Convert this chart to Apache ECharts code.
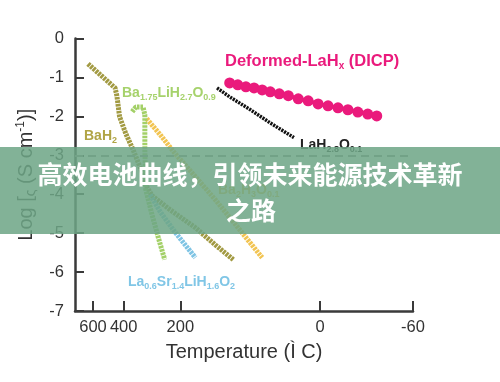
<!DOCTYPE html>
<html>
<head>
<meta charset="utf-8">
<script src="https://cdn.jsdelivr.net/npm/echarts@6/dist/echarts.min.js"></script>
<style>
html,body{margin:0;padding:0;background:#fff;}
#chart{width:500px;height:382px;}
</style>
</head>
<body>
<div id="chart"></div>
<script>
// x values are 1000/T (K^-1), y values are log conductivity
var tempTicks = [600, 400, 200, 0, -60];          // °C tick labels
var yTicks = [0, -1, -2, -3, -4, -5, -6, -7];

var bah2X = [1.09, 1.39, 1.41, 1.44, 1.51, 1.59, 1.67, 1.73, 1.80, 2.00, 2.28, 2.50, 2.70];
var bah2Y = [-0.65, -1.27, -1.47, -2.01, -2.45, -2.86, -3.32, -3.76, -4.04, -4.40, -4.86, -5.30, -5.68];

var baliX = [1.58, 1.62, 1.70, 1.72, 1.72, 1.73, 1.80, 1.87, 1.94];
var baliY = [-1.88, -1.76, -1.76, -1.96, -2.86, -3.88, -4.53, -5.12, -5.68];

var orangeX = [1.74, 1.89, 2.05, 2.28, 2.50, 2.77, 3.02];
var orangeY = [-2.06, -2.47, -2.94, -3.55, -4.14, -4.91, -5.63];

var lasrX = [1.78, 1.89, 2.05, 2.28];
var lasrY = [-4.01, -4.45, -4.96, -5.63];

var lahoX = [2.52, 2.66, 2.89, 3.11, 3.41];
var lahoY = [-1.27, -1.50, -1.83, -2.17, -2.60];

var dicpX = [2.66, 2.75, 2.84, 2.93, 3.02, 3.11, 3.21, 3.31, 3.42, 3.53, 3.64, 3.75, 3.86, 3.97, 4.08, 4.19, 4.29];
var dicpY = [-1.14, -1.19, -1.24, -1.27, -1.32, -1.37, -1.42, -1.47, -1.55, -1.60, -1.68, -1.73, -1.78, -1.83, -1.89, -1.94, -1.99];

var refLevel = -3;

function pairs(xs, ys) { return xs.map(function (x, i) { return [x, ys[i]]; }); }
var tickPos = tempTicks.map(function (t) { return 1000 / (t + 273.15); });

var chart = echarts.init(document.getElementById('chart'), null, {renderer: 'canvas'});
var FONT = '"Liberation Sans", Arial, sans-serif';
var AX = '#3a3a3a';

function chainLine(name, xs, ys, color, z) {
  return {
    name: name, type: 'line', data: pairs(xs, ys), symbol: 'none', z: z || 2,
    lineStyle: {color: color, width: 5, type: [2.6, 0.9]}, animation: false, silent: true
  };
}

function chem(parts, x, y, color, fs, z) {
  var txt = parts.map(function (p) { return p[1] ? '{s|' + p[0] + '}' : '{n|' + p[0] + '}'; }).join('');
  return {
    type: 'text', x: x, y: y, z: z || 50, silent: true,
    style: {
      text: txt, align: 'left', verticalAlign: 'middle',
      rich: {
        n: {fontSize: fs, fontWeight: 'bold', fill: color, fontFamily: FONT, lineHeight: fs + 4},
        s: {fontSize: Math.round(fs * 0.62), fontWeight: 'bold', fill: color, fontFamily: FONT, lineHeight: fs + 4, verticalAlign: 'bottom'}
      }
    }
  };
}

var option = {
  animation: false,
  backgroundColor: '#ffffff',
  grid: {left: 75, right: 87, top: 38.5, bottom: 71, containLabel: false},
  xAxis: {
    type: 'value', min: 0.946, max: tickPos[tickPos.length - 1],
    name: 'Temperature (Ì C)', nameLocation: 'middle', nameGap: 31,
    nameTextStyle: {fontSize: 20, color: '#333', fontFamily: FONT},
    splitLine: {show: false},
    axisLine: {show: true, onZero: false, lineStyle: {color: AX, width: 2.5}},
    axisTick: {show: true, inside: true, length: 10, customValues: tickPos, lineStyle: {color: AX, width: 2}},
    axisLabel: {
      customValues: tickPos, margin: 8, fontSize: 16.5, color: '#333', fontFamily: FONT,
      formatter: function (v) {
        var best = 0, d = 1e9;
        tickPos.forEach(function (p, i) { if (Math.abs(p - v) < d) { d = Math.abs(p - v); best = i; } });
        return String(tempTicks[best]);
      }
    }
  },
  yAxis: {
    type: 'value', min: yTicks[yTicks.length - 1], max: yTicks[0], interval: 1,
    name: '{a|Log [}{g|ς}{a| (S cm}{p|-1}{a|)]}', nameLocation: 'middle', nameGap: 36, nameRotate: 90,
    nameTextStyle: {
      fontSize: 20, color: '#333', fontFamily: FONT,
      rich: {
        a: {fontSize: 20, color: '#333', fontFamily: FONT, lineHeight: 24},
        g: {fontSize: 14, color: '#333', fontFamily: FONT, lineHeight: 24, verticalAlign: 'bottom'},
        p: {fontSize: 12, color: '#333', fontFamily: FONT, lineHeight: 24, verticalAlign: 'top'}
      }
    },
    splitLine: {show: false},
    axisLine: {show: true, onZero: false, lineStyle: {color: AX, width: 2.5}},
    axisTick: {show: true, inside: true, length: 9, lineStyle: {color: AX, width: 2}},
    axisLabel: {margin: 11, fontSize: 16.5, color: '#333', fontFamily: FONT}
  },
  series: [
    (function () {
      var s = chainLine('BaH2', bah2X, bah2Y, '#a29a42', 3);
      s.markLine = {
        silent: true, symbol: 'none', animation: false,
        lineStyle: {type: [8, 5], color: '#8c8c8c', width: 2},
        label: {show: false},
        data: [{yAxis: refLevel}]
      };
      return s;
    })(),
    chainLine('Ba1.75LiH2.7O0.9', baliX, baliY, '#a3d067', 4),
    chainLine('BaxHyO', orangeX, orangeY, '#f2c452', 2),
    chainLine('La0.6Sr1.4LiH1.6O2', lasrX, lasrY, '#7fc4e4', 5),
    {
      name: 'LaH2.8O0.1', type: 'line', data: pairs(lahoX, lahoY), z: 6, animation: false, silent: true,
      symbol: function (v, p) { return p.dataIndex === lahoX.length - 1 ? 'emptyCircle' : 'none'; },
      symbolSize: 6, showSymbol: true,
      itemStyle: {color: '#fff', borderColor: '#111', borderWidth: 1.5},
      lineStyle: {color: '#111', width: 3.5, type: [2.2, 1]}
    },
    {
      name: 'Deformed-LaHx (DICP)', type: 'line', data: pairs(dicpX, dicpY), z: 7, animation: false, silent: true,
      symbol: 'circle', symbolSize: 11, showSymbol: true,
      itemStyle: {color: '#ea1a7c'},
      lineStyle: {color: '#ea1a7c', width: 4}
    }
  ],
  graphic: [
    chem([['Deformed-LaH', 0], ['x', 1], [' (DICP)', 0]], 225, 61, '#ea1a7c', 16.5),
    chem([['Ba', 0], ['1.75', 1], ['LiH', 0], ['2.7', 1], ['O', 0], ['0.9', 1]], 122, 93, '#a6d26c', 14),
    chem([['BaH', 0], ['2', 1]], 84, 136, '#b0a445', 14),
    chem([['LaH', 0], ['2.8', 1], ['O', 0], ['0.1', 1]], 300, 145, '#222222', 14),
    chem([['La', 0], ['0.6', 1], ['Sr', 0], ['1.4', 1], ['LiH', 0], ['1.6', 1], ['O', 0], ['2', 1]], 128, 282, '#80c6e6', 14),
    chem([['Ba', 0], ['2', 1], ['H', 0], ['3', 1], ['O', 0], ['0.1', 1]], 218, 190, '#e9c04e', 14, 40),
    {
      type: 'rect', z: 100, silent: true,
      shape: {x: 0, y: 147, width: 500, height: 87},
      style: {fill: 'rgba(110,165,134,0.86)'}
    },
    {
      type: 'text', x: 250, y: 174, z: 101, silent: true,
      style: {text: '高效电池曲线，引领未来能源技术革新', fill: '#ffffff', fontSize: 25, fontWeight: 'bold',
        fontFamily: '"Noto Sans CJK SC", sans-serif', align: 'center', verticalAlign: 'middle'}
    },
    {
      type: 'text', x: 251, y: 210, z: 101, silent: true,
      style: {text: '之路', fill: '#ffffff', fontSize: 25, fontWeight: 'bold',
        fontFamily: '"Noto Sans CJK SC", sans-serif', align: 'center', verticalAlign: 'middle'}
    }
  ]
};
chart.setOption(option);
</script>
</body>
</html>
